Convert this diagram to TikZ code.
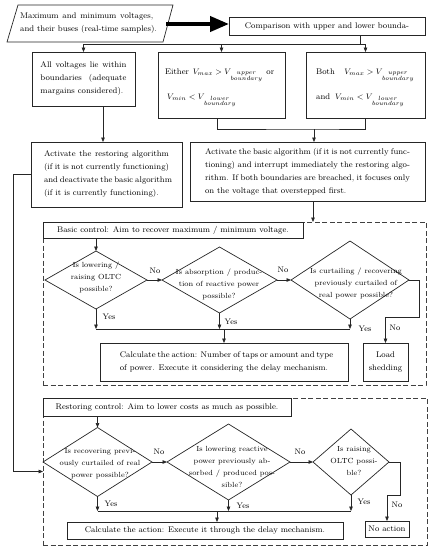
\documentclass[tikz,border=0pt]{standalone}
\usepackage{amsmath}
\usetikzlibrary{arrows.meta,shapes.geometric,calc}
\newcommand{\jline}[2]{\makebox[#1][s]{#2}}
\begin{document}
\begin{tikzpicture}[x=1pt,y=-1pt,
  ln/.style={draw=black!85, line width=0.7pt},
  box/.style={ln, rectangle, inner sep=0pt, outer sep=0pt, fill=white},
  frame/.style={draw=black!75, line width=0.7pt, dash pattern=on 5pt off 2.5pt, rectangle, inner sep=0pt, outer sep=0pt},
  dia/.style={ln, diamond, inner sep=0pt, outer sep=0pt},
  mtxt/.style={font=\fontsize{8.2}{13}\selectfont, align=left},
  dtxt/.style={font=\fontsize{7.4}{12}\selectfont, inner sep=0pt, align=center},
  lbl/.style={font=\fontsize{8}{10}\selectfont, inner sep=0pt},
  arr/.style={ln, -{Triangle[length=4.5pt,width=3.6pt]}},
  con/.style={ln},
]
\useasboundingbox (0,0) rectangle (432,550);

% input (parallelogram)
\draw[ln] (18,5) -- (173,5) -- (163,42) -- (7,42) -- cycle;
\coordinate (inpr) at (166,24);
\node[mtxt, inner sep=0pt] (inpt) at (88.5,23)
  {\jline{133pt}{Maximum and minimum voltages,}\\ and their buses (real-time samples).};
\node[box, mtxt, align=center, minimum width=196pt, minimum height=18pt] (cmp) at (327,26)
  {Comparison with upper and lower bounda-};

% top boxes
\node[box, mtxt, minimum width=103pt, minimum height=54pt] (all) at (83.5,79)
  {\jline{86pt}{All voltages lie within}\\ \jline{86pt}{boundaries (adequate}\\ margains considered).};
\node[box, minimum width=127pt, minimum height=66pt] (either) at (221.5,85) {};
\node[box, minimum width=119pt, minimum height=66pt] (both) at (365.5,85) {};
\node[font=\fontsize{8.2}{13}\selectfont, inner sep=0pt, anchor=base west] (e1) at (165,74.5)
  {\makebox[109pt][l]{Either\hfill$V_{max} > V_{\,\substack{upper\\ boundary}}$\hfill or}};
\node[font=\fontsize{8.2}{13}\selectfont, inner sep=0pt, anchor=base west] (e2) at (167,99)
  {$V_{min} < V_{\,\substack{lower\\ boundary}}$};
\node[font=\fontsize{8.2}{13}\selectfont, inner sep=0pt, anchor=base west] (b1) at (316,74.5)
  {\makebox[98pt][l]{Both\hfill$V_{max} > V_{\,\substack{upper\\ boundary}}$}};
\node[font=\fontsize{8.2}{13}\selectfont, inner sep=0pt, anchor=base west] (b2) at (316,99)
  {\makebox[88pt][l]{and\hfill$V_{min} < V_{\,\substack{lower\\ boundary}}$}};

\node[box, mtxt, minimum width=151pt, minimum height=65pt] (rest) at (106.5,174.5)
  {\jline{125pt}{Activate the restoring algorithm}\\ \jline{125pt}{(if it is not currently functioning)}\\ \jline{125pt}{and deactivate the basic algorithm}\\ (if it is currently functioning).};
\node[box, mtxt, minimum width=235pt, minimum height=59pt] (basic) at (307.5,171.5)
  {\jline{205pt}{Activate the basic algorithm (if it is not currently func-}\\ \jline{205pt}{tioning) and interrupt immediately the restoring algo-}\\ \jline{205pt}{rithm. If both boundaries are breached, it focuses only}\\ on the voltage that overstepped first.};

% basic control frame
\node[frame, minimum width=383pt, minimum height=163pt] (bframe) at (234.5,303.5) {};
\node[box, font=\fontsize{8.2}{13}\selectfont, minimum width=260pt, minimum height=16pt] (bhead) at (173,230)
  {Basic control: Aim to recover maximum / minimum voltage.};
\node[dia, minimum width=102pt, minimum height=58pt] (d1) at (96,280) {};
\node[dia, minimum width=115pt, minimum height=66pt] (d2) at (219.5,280) {};
\node[dia, minimum width=118pt, minimum height=78pt] (d3) at (350,280) {};
\node[dtxt] (d1t) at (96,277) {Is lowering /\\ raising OLTC\\ possible?};
\node[dtxt] (d2t) at (219,284) {Is absorption / produc-\\ tion of reactive power\\ possible?};
\node[dtxt] (d3t) at (356,283) {Is curtailing / recovering\\ previously curtailed of\\ real power possible?};
\node[box, font=\fontsize{8.2}{13}\selectfont, align=center, minimum width=45pt, minimum height=38pt] (ls) at (385.5,362)
  {Load\\ shedding};
\node[box, mtxt, minimum width=248pt, minimum height=38pt] (bcalc) at (224,362)
  {\jline{206pt}{Calculate the action: Number of taps or amount and type}\\ of power. Execute it considering the delay mechanism.};

% restoring frame
\node[frame, minimum width=384pt, minimum height=147pt] (rframe) at (235,471.5) {};
\node[box, font=\fontsize{8.2}{13}\selectfont, minimum width=248pt, minimum height=18pt] (rhead) at (167,407)
  {Restoring control: Aim to lower costs as much as possible.};
\node[dia, minimum width=109pt, minimum height=69pt] (r1) at (97.5,462) {};
\node[dia, minimum width=123pt, minimum height=76pt] (r2) at (228.5,462) {};
\node[dia, minimum width=76pt, minimum height=66pt] (r3) at (351,462) {};
\node[dtxt] (r1t) at (100,464) {Is recovering previ-\\ ously curtailed of real\\ power possible?};
\node[dtxt] (r2t) at (232,467) {Is lowering reactive\\ power previously ab-\\ sorbed / produced pos-\\ sible?};
\node[dtxt] (r3t) at (354,461) {Is raising\\ OLTC possi-\\ ble?};
\node[box, font=\fontsize{8.2}{13}\selectfont, minimum width=44pt, minimum height=16pt] (na) at (387,529) {No action};
\node[box, font=\fontsize{8.2}{13}\selectfont, minimum width=276pt, minimum height=17pt] (rcalc) at (205,530.5)
  {Calculate the action: Execute it through the delay mechanism.};

% connectors top
\draw[line width=4pt, draw=black, -{Triangle[length=19pt,width=15pt]}] (inpr) -- (cmp.west |- inpr);
\coordinate (j1) at (360,44);
\draw[con] (cmp.south -| j1) -- (j1);
\draw[arr] (j1) -| (all.north);
\draw[arr] (j1) -| (either.north);
\draw[arr] (j1) -| (both.north);
\coordinate (j2) at (314,129);
\draw[con] ([xshift=-4pt]either.south) |- (j2) -| (both.south);
\draw[arr] (j2) -- (j2 |- basic.north);
\draw[arr] ([xshift=19.5pt]all.south) -- ([xshift=19.5pt]all.south |- rest.north);
\draw[arr] ([xshift=5.5pt]basic.south) -- ([xshift=5.5pt]basic.south |- bframe.north);
\draw[arr] (rest.west) -| (13,471.5) -- (rframe.west);

% basic flow
\draw[arr] (bhead.south -| d1.north) -- (d1.north);
\draw[arr] (d1.east) -- (d2.west);
\draw[arr] (d2.east) -- (d3.west);
\draw[arr] (d3.east) -| (419,317) -| (ls.north);
\coordinate (yb) at (224,329);
\draw[arr] (d1.south) -- (d1.south |- yb);
\draw[arr] (d2.south) -- (d2.south |- yb);
\draw[arr] (d3.south) -- (d3.south |- yb);
\draw[con] (d1.south |- yb) -- (d3.south |- yb);
\draw[arr] (yb) -- (bcalc.north);
\node[lbl] (ln1) at (155,271) {No};
\node[lbl] (ln2) at (283,270) {No};
\node[lbl] (ln3) at (395,328) {No};
\node[lbl] (ly1) at (109,317) {Yes};
\node[lbl] (ly2) at (231,322) {Yes};
\node[lbl] (ly3) at (365,329) {Yes};

% restoring flow
\draw[arr] (rhead.south -| r1.north) -- (r1.north);
\draw[arr] (r1.east) -- (r2.west);
\draw[arr] (r2.east) -- (r3.west);
\draw[arr] (r3.east) -| (400,495) -| (na.north);
\coordinate (yr) at (217,511);
\draw[arr] (r1.south) -- (r1.south |- yr);
\draw[arr] (r2.south) -- (r2.south |- yr);
\draw[arr] (r3.south) -- (r3.south |- yr);
\draw[con] (r1.south |- yr) -- (r3.south |- yr);
\draw[arr] (yr) -- (yr |- rcalc.north);
\node[lbl] (rn1) at (159,452) {No};
\node[lbl] (rn2) at (300,452) {No};
\node[lbl] (rn3) at (397,505) {No};
\node[lbl] (ry1) at (111,504) {Yes};
\node[lbl] (ry2) at (243,506) {Yes};
\node[lbl] (ry3) at (364,502) {Yes};
\end{tikzpicture}
\end{document}
